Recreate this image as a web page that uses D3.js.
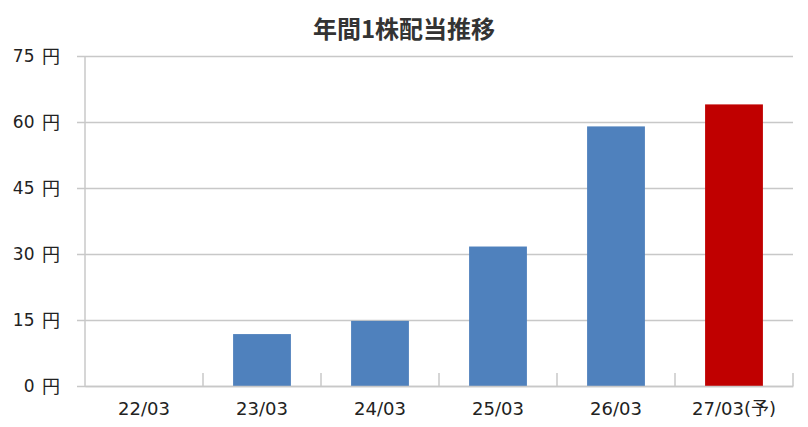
<!DOCTYPE html>
<html>
<head>
<meta charset="utf-8">
<script src="https://cdn.jsdelivr.net/npm/d3@7"></script>
<style>
  body { margin: 0; background: #fff; }
</style>
</head>
<body>
<div id="chart"></div>
<script>
// data
var categories = ["22/03", "23/03", "24/03", "25/03", "26/03", "27/03(予)"];
var dividends = [0, 11.8, 14.8, 31.7, 59, 64];
var forecast = [false, false, false, false, false, true];
var yTicks = [0, 15, 30, 45, 60, 75];

var w = 808;
var h = 427;
var margin = { top: 56, right: 15, bottom: 41, left: 85 };
var labelFont = "'DejaVu Sans', 'Noto Sans CJK JP', sans-serif";

var svg = d3.select("#chart").append("svg")
  .attr("width", w)
  .attr("height", h);

var x = d3.scaleBand()
  .domain(categories)
  .range([margin.left, w - margin.right])
  .paddingInner(0.51)
  .paddingOuter(0.255);

var xBand = d3.scaleBand()
  .domain(categories)
  .range([margin.left, w - margin.right]);

var y = d3.scaleLinear()
  .domain([0, 75])
  .range([h - margin.bottom, margin.top]);

// title
svg.append("text")
  .attr("x", 404)
  .attr("y", 38)
  .attr("text-anchor", "middle")
  .style("font-family", "'Noto Sans CJK JP', sans-serif")
  .style("font-size", "24px")
  .style("font-weight", "bold")
  .style("fill", "#333")
  .text("年間1株配当推移");

// gridlines
var yAxis = svg.append("g")
  .attr("transform", "translate(" + margin.left + ",0)")
  .call(d3.axisLeft(y)
    .tickValues(yTicks)
    .tickSize(-(w - margin.right - margin.left))
    .tickFormat(""));
yAxis.select(".domain").remove();
yAxis.selectAll(".tick line")
  .attr("x1", -8)
  .attr("stroke", "#c8c8c8")
  .attr("stroke-width", 1.5);

// y labels: number and 円 drawn separately, like the reference
var yLab = svg.append("g").selectAll("g")
  .data(yTicks)
  .enter()
  .append("g")
  .attr("transform", function (d) { return "translate(0," + y(d) + ")"; });
yLab.append("text")
  .attr("x", 34.5)
  .attr("dy", "0.35em")
  .attr("text-anchor", "end")
  .style("font-family", labelFont)
  .style("font-size", "17px")
  .style("fill", "#222")
  .text(function (d) { return d; });
yLab.append("text")
  .attr("x", 42)
  .attr("dy", "0.37em")
  .style("font-family", "'Noto Sans CJK JP', sans-serif")
  .style("font-size", "18px")
  .style("fill", "#222")
  .text("円");

// left axis line
svg.append("line")
  .attr("x1", margin.left).attr("x2", margin.left)
  .attr("y1", y(75)).attr("y2", y(0))
  .attr("stroke", "#c8c8c8")
  .attr("stroke-width", 1.5);

// bars
svg.selectAll("rect.bar")
  .data(dividends)
  .enter()
  .append("rect")
  .attr("class", "bar")
  .attr("x", function (d, i) { return x(categories[i]); })
  .attr("y", function (d) { return y(d); })
  .attr("width", x.bandwidth())
  .attr("height", function (d) { return y(0) - y(d); })
  .attr("fill", function (d, i) { return forecast[i] ? "#C00000" : "#4F81BD"; });

// x axis with category divider ticks
var xAxis = svg.append("g")
  .attr("transform", "translate(0," + y(0) + ")")
  .call(d3.axisBottom(xBand).tickSize(0).tickPadding(16));
xAxis.select(".domain")
  .attr("stroke", "#c8c8c8")
  .attr("stroke-width", 1.5);
xAxis.selectAll(".tick text")
  .style("font-family", labelFont)
  .style("font-size", "18px")
  .style("fill", "#222");

svg.selectAll("line.divider")
  .data(categories.slice(1).concat(["end"]))
  .enter()
  .append("line")
  .attr("class", "divider")
  .attr("x1", function (d, i) { return xBand(categories[i]) + xBand.bandwidth(); })
  .attr("x2", function (d, i) { return xBand(categories[i]) + xBand.bandwidth(); })
  .attr("y1", y(0))
  .attr("y2", y(0) - 13)
  .attr("stroke", "#c8c8c8")
  .attr("stroke-width", 1.5);
</script>
</body>
</html>
